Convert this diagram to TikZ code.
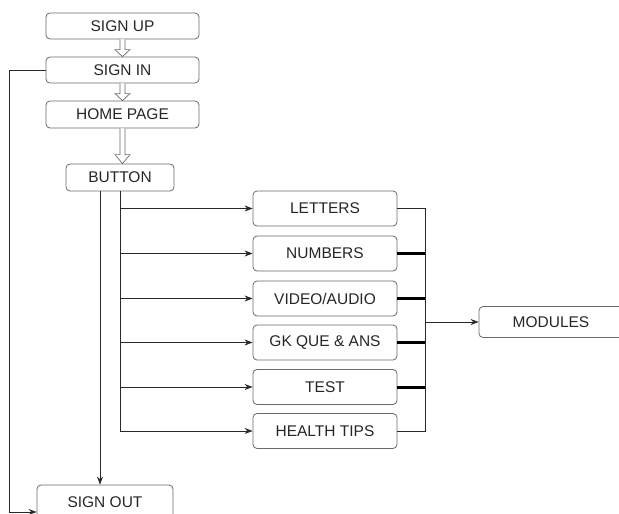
\documentclass[tikz,border=0pt]{standalone}
\usepackage{fontspec}
\setmainfont{Liberation Sans}
\usetikzlibrary{arrows.meta, calc, positioning}
\definecolor{boxline}{RGB}{105,105,105}
\definecolor{wirecol}{RGB}{40,40,40}

% hollow (outlined) arrow from one box down to the next
\newcommand{\hollowarrow}[3]{%
  \path (#1.south |- #2.north) coordinate (hatip);
  \draw[boxline, fill=white, line width=0.7pt]
    ($(#1.south)+(-2.5pt,0)$) -- ($(hatip)+(-2.5pt,#3)$) -- ($(hatip)+(-7.5pt,#3)$)
    -- (hatip) -- ($(hatip)+(7.5pt,#3)$) -- ($(hatip)+(2.5pt,#3)$) -- ($(#1.south)+(2.5pt,0)$);
}

\begin{document}
\begin{tikzpicture}[x=1pt, y=-1pt,
  box/.style={draw=boxline, line width=0.8pt, rounded corners=4pt, fill=white, minimum width=153pt, minimum height=26pt, inner sep=0pt, text=black!85, font=\fontsize{15.5}{18}\selectfont},
  sidebox/.style={box, minimum width=144pt, minimum height=35pt},
  arr/.style={draw=wirecol, line width=0.8pt, -{Stealth[length=8pt,width=6pt]}},
  wire/.style={draw=wirecol, line width=0.8pt},
  tbar/.style={draw=black, line width=3pt}]
  \useasboundingbox (0,0) rectangle (619,514);
  \clip (0,0) rectangle (619,514);

  % Main column
  \node[box] (signup) at (122.5,26) {SIGN UP};
  \node[box] (signin) at (122.5,70) {SIGN IN};
  \node[box, minimum height=27pt] (homepage) at (122.5,114.5) {HOME PAGE};
  \node[box, minimum width=108pt, minimum height=27pt] (button) at (120,177.5) {BUTTON};

  % Button options
  \node[sidebox] (letters) at (325,208.5) {LETTERS};
  \node[sidebox] (numbers) at (325,253.5) {NUMBERS};
  \node[sidebox] (videoaudio) at (325,298.5) {VIDEO/AUDIO};
  \node[sidebox] (gkqa) at (325,342.5) {GK QUE \& ANS};
  \node[sidebox] (test) at (325,387) {TEST};
  \node[sidebox] (healthtips) at (325,431) {HEALTH TIPS};

  \node[sidebox, minimum height=31pt] (modules) at (551,322) {MODULES};
  \node[sidebox, minimum width=136pt] (signout) at (105,502.5) {SIGN OUT};

  % Hollow arrows
  \hollowarrow{signup}{signin}{7pt}
  \hollowarrow{signin}{homepage}{7pt}
  \hollowarrow{homepage}{button}{9pt}

  % Sign in back to sign out
  \draw[arr] (signin.west) -- ++(-36,0) |- ([yshift=-9.5pt]signout.west);

  % Button down to sign out
  \coordinate (drop) at ([xshift=-20pt]button.south);
  \draw[arr] (drop) -- (drop |- signout.north);

  % Button to the options
  \draw[arr] (button.south) |- (healthtips.west);
  \foreach \m in {letters,numbers,videoaudio,gkqa,test}
    \draw[arr] (button.south |- \m.west) -- (\m.west);

  % Options to modules
  \coordinate (rbus) at ([xshift=28pt]letters.east);
  \draw[wire] (letters.east) -- (rbus) |- (healthtips.east);
  \foreach \m in {numbers,videoaudio,gkqa,test}
    \draw[tbar] (\m.east) -- (rbus |- \m.east);
  \draw[arr] (rbus |- modules.west) -- (modules.west);
\end{tikzpicture}
\end{document}
